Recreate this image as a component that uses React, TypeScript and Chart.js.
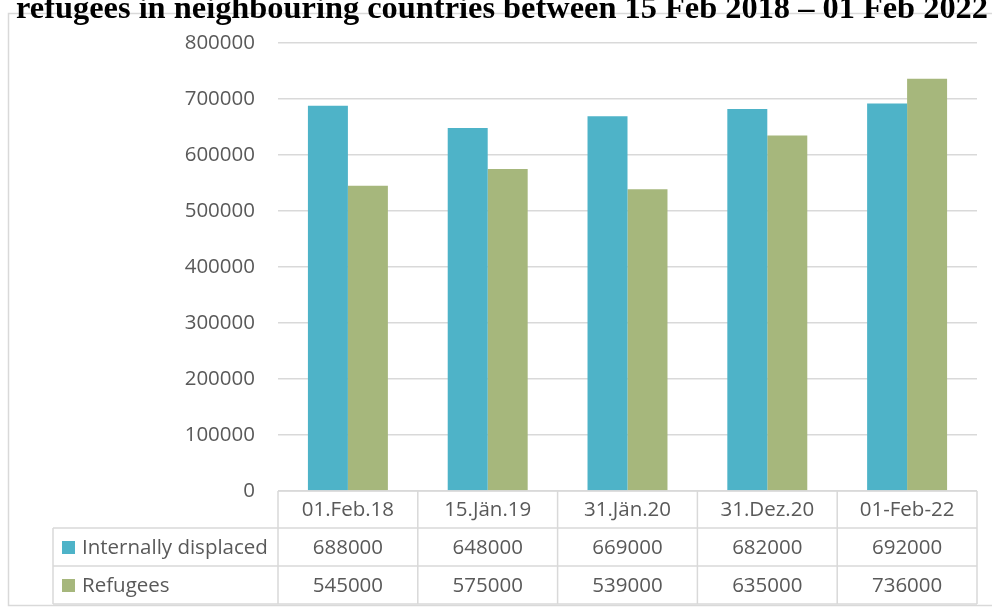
import React, { useEffect, useRef } from "react";
import { Chart, registerables } from "chart.js";

Chart.register(...registerables);

const categories = ["01.Feb.18", "15.Jän.19", "31.Jän.20", "31.Dez.20", "01-Feb-22"];
const internallyDisplaced = [688000, 648000, 669000, 682000, 692000];
const refugees = [545000, 575000, 539000, 635000, 736000];
const seriesNames = ["Internally displaced", "Refugees"];
const titleText = "refugees in neighbouring countries between 15 Feb 2018 – 01 Feb 2022";

const BLUE = "#4eb3c8";
const GREEN = "#a6b77c";
const GRID = "#d9d9d9";
const TEXT = "#595959";
const FONT_FAMILY = "'Open Sans', Lato, sans-serif";
const FONT_SIZE = 20.5;

const decorPlugin = {
  id: "decor",
  beforeDraw(chart: any) {
    const ctx = chart.ctx;
    ctx.save();
    ctx.fillStyle = "#ffffff";
    ctx.fillRect(0, 0, chart.width, chart.height);
    ctx.strokeStyle = GRID;
    ctx.lineWidth = 1.5;
    ctx.strokeRect(8.5, 13.5, 1000, 592);
    ctx.restore();
  },
  afterDraw(chart: any) {
    const ctx = chart.ctx;
    const area = chart.chartArea;
    const xs = chart.scales.x;
    const n = categories.length;
    const w = (area.right - area.left) / n;
    const y0 = area.bottom;
    const y1 = y0 + 37;
    const y2 = y1 + 38;
    const y3 = y2 + 38;
    const tableLeft = 53;
    ctx.save();
    // title
    ctx.fillStyle = "#000000";
    ctx.font = "bold 32.4px 'Liberation Serif', 'Times New Roman', serif";
    ctx.textAlign = "center";
    ctx.textBaseline = "alphabetic";
    ctx.fillText(titleText, 502, 18);

    // table lines
    ctx.strokeStyle = GRID;
    ctx.lineWidth = 1.5;
    ctx.beginPath();
    ctx.moveTo(area.left, y0);
    ctx.lineTo(area.right, y0);
    ctx.moveTo(tableLeft, y1);
    ctx.lineTo(area.right, y1);
    ctx.moveTo(tableLeft, y2);
    ctx.lineTo(area.right, y2);
    ctx.moveTo(tableLeft, y3);
    ctx.lineTo(area.right, y3);
    ctx.moveTo(tableLeft, y1);
    ctx.lineTo(tableLeft, y3);
    for (let i = 0; i <= n; i++) {
      const x = area.left + i * w;
      ctx.moveTo(x, y0);
      ctx.lineTo(x, y3);
    }
    ctx.stroke();

    // texts
    ctx.fillStyle = TEXT;
    ctx.font = `${FONT_SIZE}px ${FONT_FAMILY}`;
    ctx.textAlign = "center";
    ctx.textBaseline = "middle";
    const rows = [internallyDisplaced, refugees];
    for (let i = 0; i < n; i++) {
      const cx = xs.getPixelForValue(i);
      ctx.fillText(categories[i], cx, (y0 + y1) / 2 + 1);
      ctx.fillText(String(rows[0][i]), cx, (y1 + y2) / 2 + 1);
      ctx.fillText(String(rows[1][i]), cx, (y2 + y3) / 2 + 1);
    }
    const colors = [BLUE, GREEN];
    const rowMids = [(y1 + y2) / 2, (y2 + y3) / 2];
    ctx.textAlign = "left";
    for (let r = 0; r < 2; r++) {
      ctx.fillStyle = colors[r];
      ctx.fillRect(62, rowMids[r] - 6, 13, 13);
      ctx.fillStyle = TEXT;
      ctx.fillText(seriesNames[r], 82, rowMids[r] + 1);
    }
    ctx.restore();
  },
};

export default function App() {
  const ref = useRef<HTMLCanvasElement>(null);
  useEffect(() => {
    const canvas = ref.current;
    if (!canvas) return;
    const chart = new Chart(canvas, {
      type: "bar",
      data: {
        labels: categories,
        datasets: [
          {
            label: seriesNames[0],
            data: internallyDisplaced,
            backgroundColor: BLUE,
            borderWidth: 0,
            categoryPercentage: 0.572,
            barPercentage: 1,
          },
          {
            label: seriesNames[1],
            data: refugees,
            backgroundColor: GREEN,
            borderWidth: 0,
            categoryPercentage: 0.572,
            barPercentage: 1,
          },
        ],
      },
      options: {
        responsive: false,
        animation: false,
        layout: { padding: { top: 43, bottom: 117, left: 0, right: 15 } },
        plugins: {
          legend: { display: false },
          tooltip: { enabled: false },
          title: { display: false },
        },
        scales: {
          x: {
            display: false,
          },
          y: {
            min: 0,
            max: 800000,
            ticks: {
              stepSize: 100000,
              color: TEXT,
              padding: 23,
              font: { family: FONT_FAMILY, size: FONT_SIZE },
              callback: (v: any) => String(v),
            },
            grid: { color: GRID, lineWidth: 1.5, drawTicks: false },
            border: { display: false },
            afterFit: (scale: any) => {
              scale.width = 278;
            },
          },
        },
      },
      plugins: [decorPlugin],
    });
    return () => chart.destroy();
  }, []);
  return (
    <div style={{ position: "absolute", left: 0, top: 0, width: 992, height: 608 }}>
      <canvas ref={ref} width={992} height={608} style={{ display: "block" }} />
    </div>
  );
}
